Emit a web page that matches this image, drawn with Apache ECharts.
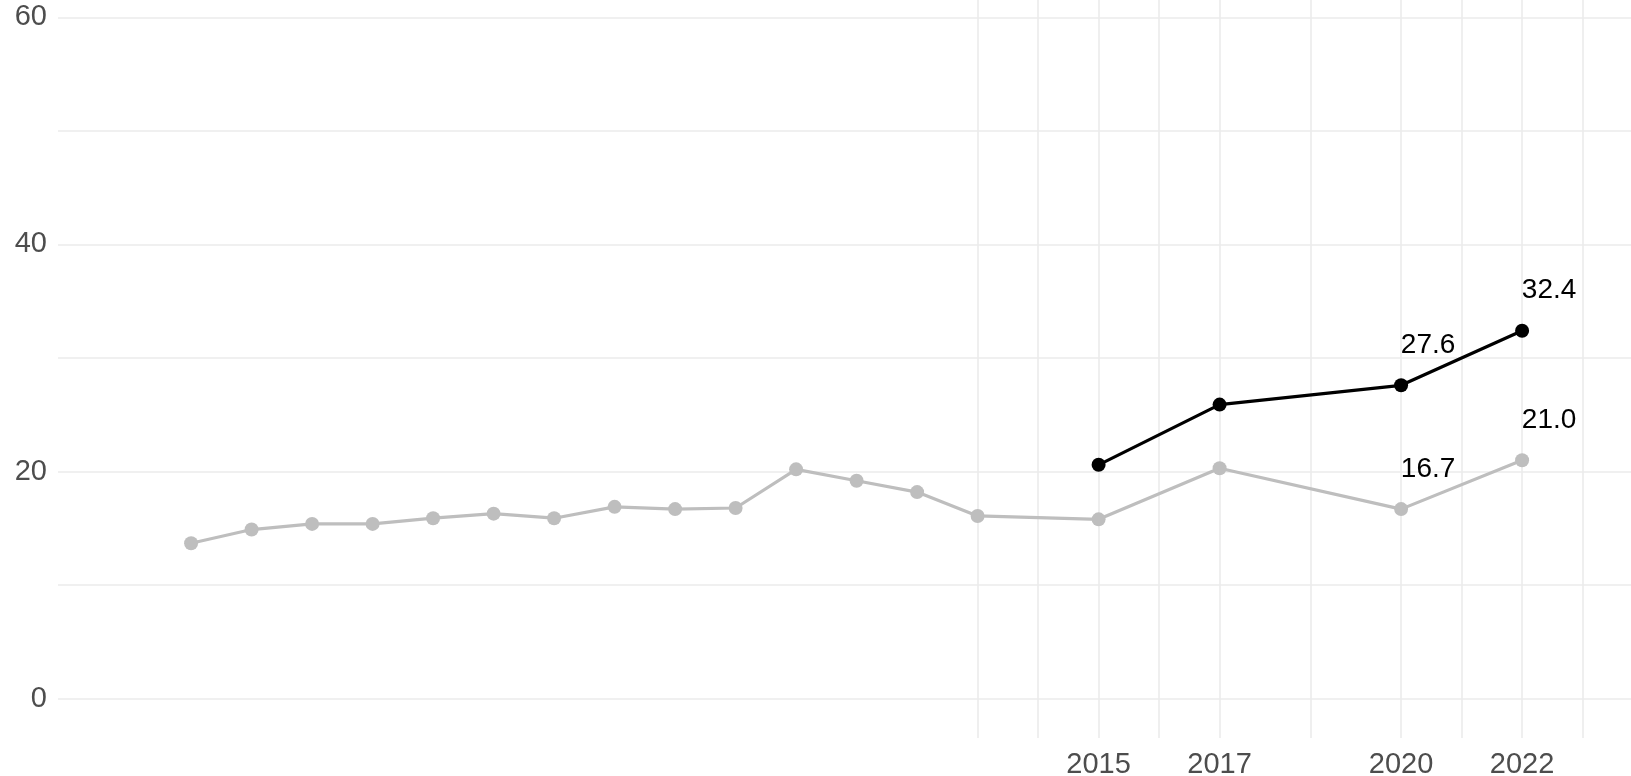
<!DOCTYPE html>
<html>
<head>
<meta charset="utf-8">
<script src="https://cdn.jsdelivr.net/npm/echarts@6/dist/echarts.min.js"></script>
<style>
html, body { margin:0; padding:0; background:#fff; }
#chart { width:1631px; height:776px; }
</style>
</head>
<body>
<div id="chart"></div>
<script>
// data
var greyYears = [2000, 2001, 2002, 2003, 2004, 2005, 2006, 2007, 2008, 2009, 2010, 2011, 2012, 2013, 2015, 2017, 2020, 2022];
var greyValues = [13.7, 14.9, 15.4, 15.4, 15.9, 16.3, 15.9, 16.9, 16.7, 16.8, 20.2, 19.2, 18.2, 16.1, 15.8, 20.3, 16.7, 21.0];
var blackYears = [2015, 2017, 2020, 2022];
var blackValues = [20.6, 25.9, 27.6, 32.4];
var labelYears = [2020, 2022];

var xTicks = [2015, 2017, 2020, 2022];
var xGridMajor = [2015, 2017, 2020, 2022];
var xGridMinor = [2013, 2014, 2016, 2018.5, 2021, 2023];
var yTicks = [0, 20, 40, 60];
var yGridMinor = [10, 30, 50];

function buildData(years, values) {
	var out = [];
	for (var i = 0; i < years.length; i++) {
		var item = { value: [years[i], values[i]] };
		if (labelYears.indexOf(years[i]) >= 0) {
			item.label = { show: true };
		}
		out.push(item);
	}
	return out;
}

var gridLines = [];
xGridMajor.concat(xGridMinor).forEach(function (v) { gridLines.push({ xAxis: v }); });
yTicks.concat(yGridMinor).forEach(function (v) { gridLines.push({ yAxis: v }); });

var pointLabel = {
	show: false,
	position: 'inside',
	offset: [27, -40],
	color: '#000',
	fontSize: 28,
	textBorderWidth: 0,
	fontFamily: 'Liberation Sans, Arial, sans-serif',
	formatter: function (p) { return p.value[1].toFixed(1); }
};

var myChart = echarts.init(document.getElementById('chart'), null, { renderer: 'canvas' });

var option = {
	animation: false,
	backgroundColor: '#fff',
	// keep the panel where it is, labels may sit outside it
	grid: { left: 58, right: 0, top: 0, bottom: 38, containLabel: false, outerBoundsMode: 'none' },
	xAxis: {
		type: 'value',
		min: 1997.8,
		max: 2023.8,
		axisLine: { show: false },
		axisTick: { show: false },
		splitLine: { show: false },
		axisLabel: {
			customValues: xTicks,
			margin: 12,
			fontSize: 29,
			color: '#4D4D4D',
			fontFamily: 'Liberation Sans, Arial, sans-serif',
			formatter: function (v) { return String(v); }
		}
	},
	yAxis: {
		type: 'value',
		min: -3.45,
		max: 61.52,
		axisLine: { show: false },
		axisTick: { show: false },
		splitLine: { show: false },
		axisLabel: {
			customValues: yTicks,
			margin: 11,
			padding: [8, 0, 0, 0],
			fontSize: 29,
			color: '#4D4D4D',
			fontFamily: 'Liberation Sans, Arial, sans-serif'
		}
	},
	series: [
		{
			// panel grid lines, kept under the data
			type: 'line',
			data: [],
			silent: true,
			z: 0,
			markLine: {
				silent: true,
				z: 0,
				symbol: ['none', 'none'],
				label: { show: false },
				lineStyle: { color: '#EBEBEB', width: 1.6, type: 'solid' },
				data: gridLines
			}
		},
		{
			name: 'grey',
			type: 'line',
			z: 2,
			data: buildData(greyYears, greyValues),
			symbol: 'circle',
			symbolSize: 14,
			itemStyle: { color: '#BEBEBE' },
			lineStyle: { color: '#BEBEBE', width: 3.2 },
			label: pointLabel
		},
		{
			name: 'black',
			type: 'line',
			z: 3,
			data: buildData(blackYears, blackValues),
			symbol: 'circle',
			symbolSize: 14,
			itemStyle: { color: '#000' },
			lineStyle: { color: '#000', width: 3.2 },
			label: pointLabel
		}
	]
};
myChart.setOption(option);
</script>
</body>
</html>
